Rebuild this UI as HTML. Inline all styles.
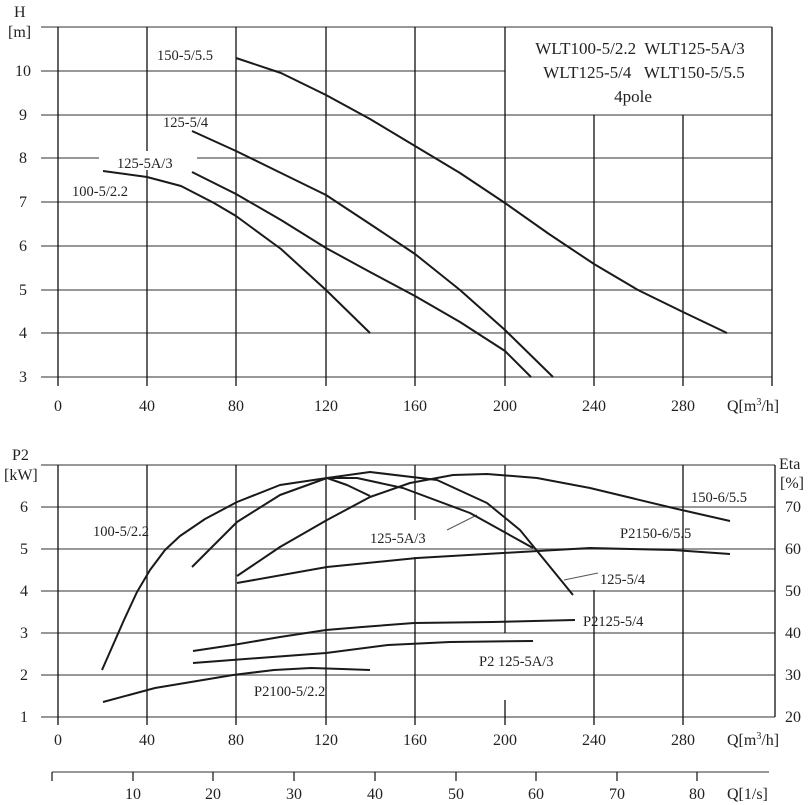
<!DOCTYPE html>
<html><head><meta charset="utf-8"><style>
html,body{margin:0;padding:0;background:#fff;}
svg{display:block;font-family:"Liberation Serif",serif;}
</style></head><body>
<svg width="811" height="805" viewBox="0 0 811 805" xmlns="http://www.w3.org/2000/svg">
<g stroke="#777" stroke-width="1.6">
<line x1="41" y1="27" x2="772" y2="27"/>
<line x1="41" y1="71" x2="505" y2="71"/>
<line x1="41" y1="115" x2="772" y2="115"/>
<line x1="41" y1="158" x2="99" y2="158"/><line x1="197" y1="158" x2="772" y2="158"/>
<line x1="41" y1="202" x2="772" y2="202"/>
<line x1="41" y1="246" x2="772" y2="246"/>
<line x1="41" y1="290" x2="772" y2="290"/>
<line x1="41" y1="333" x2="772" y2="333"/>
<line x1="41" y1="377" x2="772" y2="377"/>
</g>
<g stroke="#111" stroke-width="1.3">
<line x1="58" y1="27" x2="58" y2="386"/>
<line x1="147" y1="27" x2="147" y2="151"/><line x1="147" y1="170" x2="147" y2="386"/>
<line x1="236" y1="27" x2="236" y2="386"/>
<line x1="326" y1="27" x2="326" y2="386"/>
<line x1="415" y1="27" x2="415" y2="386"/>
<line x1="505" y1="27" x2="505" y2="386"/>
<line x1="594" y1="115" x2="594" y2="386"/>
<line x1="683" y1="115" x2="683" y2="386"/>
<line x1="772" y1="27" x2="772" y2="386"/>
</g>
<g font-size="16" fill="#222" text-anchor="end">
<text x="31" y="76">10</text><text x="27" y="120">9</text><text x="27" y="163">8</text><text x="27" y="207">7</text><text x="27" y="251">6</text><text x="27" y="295">5</text><text x="27" y="338">4</text><text x="27" y="382">3</text>
</g>
<text x="14" y="17" font-size="16" fill="#222">H</text>
<text x="8" y="37" font-size="16" fill="#222">[m]</text>
<g font-size="16" fill="#222" text-anchor="middle">
<text x="58" y="411">0</text><text x="147" y="411">40</text><text x="236" y="411">80</text><text x="326" y="411">120</text><text x="415" y="411">160</text><text x="505" y="411">200</text><text x="594" y="411">240</text><text x="683" y="411">280</text>
</g>
<text x="727" y="411" font-size="16" fill="#222">Q[m<tspan font-size="10" dy="-6">3</tspan><tspan dy="6">/h]</tspan></text>
<g font-size="17" fill="#222" text-anchor="middle">
<text x="640" y="54" xml:space="preserve">WLT100-5/2.2  WLT125-5A/3</text>
<text x="644" y="78" xml:space="preserve">WLT125-5/4   WLT150-5/5.5</text>
<text x="633" y="102">4pole</text>
</g>
<g font-size="14.5" fill="#222">
<text x="157" y="60">150-5/5.5</text>
<text x="163" y="127">125-5/4</text>
<text x="117" y="168">125-5A/3</text>
<text x="72" y="196">100-5/2.2</text>
</g>
<g fill="none" stroke="#1a1a1a" stroke-width="2" stroke-linejoin="round">
<polyline points="236,58 281,73 326,95 370,119 415,146 460,173 505,203 549,234 594,264 638,290 683,312 727,333"/>
<polyline points="192,131 236,151 281,173 326,195 370,224 415,254 460,290 505,330 553,377"/>
<polyline points="192,172 236,194 281,220 326,248 370,272 415,296 460,322 505,351 531,377"/>
<polyline points="103,171 147,177 181,186 214,203 236,216 281,249 326,290 370,333"/>
</g>

<g stroke="#777" stroke-width="1.6">
<line x1="41" y1="465" x2="775" y2="465"/>
<line x1="41" y1="507" x2="775" y2="507"/>
<line x1="41" y1="549" x2="775" y2="549"/>
<line x1="41" y1="591" x2="775" y2="591"/>
<line x1="41" y1="633" x2="775" y2="633"/>
<line x1="41" y1="675" x2="775" y2="675"/>
<line x1="41" y1="717" x2="775" y2="717"/>
</g>
<g stroke="#111" stroke-width="1.3">
<line x1="58" y1="465" x2="58" y2="725"/>
<line x1="147" y1="465" x2="147" y2="725"/>
<line x1="236" y1="465" x2="236" y2="725"/>
<line x1="326" y1="465" x2="326" y2="725"/>
<line x1="415" y1="465" x2="415" y2="520"/><line x1="415" y1="557" x2="415" y2="725"/>
<line x1="505" y1="465" x2="505" y2="633"/><line x1="505" y1="700" x2="505" y2="725"/>
<line x1="594" y1="590" x2="594" y2="725"/>
<line x1="683" y1="465" x2="683" y2="725"/>
<line x1="775" y1="465" x2="775" y2="717"/>
</g>
<text x="12" y="460" font-size="16" fill="#222">P2</text>
<text x="4" y="480" font-size="16" fill="#222">[kW]</text>
<g font-size="16" fill="#222" text-anchor="end">
<text x="28" y="512">6</text><text x="28" y="554">5</text><text x="28" y="596">4</text><text x="28" y="638">3</text><text x="28" y="680">2</text><text x="28" y="722">1</text>
</g>
<text x="779" y="469" font-size="16" fill="#222">Eta</text>
<text x="780" y="488" font-size="16" fill="#222">[%]</text>
<g font-size="16" fill="#222">
<text x="785" y="512">70</text><text x="785" y="554">60</text><text x="785" y="596">50</text><text x="785" y="638">40</text><text x="785" y="680">30</text><text x="785" y="722">20</text>
</g>
<g font-size="16" fill="#222" text-anchor="middle">
<text x="58" y="745">0</text><text x="147" y="745">40</text><text x="236" y="745">80</text><text x="326" y="745">120</text><text x="415" y="745">160</text><text x="505" y="745">200</text><text x="594" y="745">240</text><text x="683" y="745">280</text>
</g>
<text x="727" y="745" font-size="16" fill="#222">Q[m<tspan font-size="10" dy="-6">3</tspan><tspan dy="6">/h]</tspan></text>
<g font-size="14.5" fill="#222">
<text x="93" y="536">100-5/2.2</text>
<text x="691" y="502">150-6/5.5</text>
<text x="370" y="543">125-5A/3</text>
<text x="620" y="538">P2150-6/5.5</text>
<text x="600" y="584">125-5/4</text>
<text x="583" y="626">P2125-5/4</text>
<text x="479" y="666">P2 125-5A/3</text>
<text x="254" y="696">P2100-5/2.2</text>
</g>
<g stroke="#555" stroke-width="1">
<line x1="447" y1="530" x2="477" y2="515"/>
<line x1="564" y1="580" x2="598" y2="573"/>
</g>
<g fill="none" stroke="#1a1a1a" stroke-width="2" stroke-linejoin="round">
<polyline points="102,670 113,645 124,620 137,592 150,570 165,550 180,536 205,519 237,502 280,485 327,478 347,485 370,496"/>
<polyline points="192,567 237,522 280,495 327,478 370,472 437,480 487,503 520,530 573,595"/>
<polyline points="327,478 357,478 403,488 470,513 533,548"/>
<polyline points="237,576 280,547 327,520 370,497 410,483 453,475 487,474 537,478 590,488 673,508 730,521"/>
<polyline points="237,583 327,567 417,558 503,553 590,548 673,550 730,554"/>
<polyline points="193,651 233,645 280,637 326,630 362,627 414,623 492,622 575,620"/>
<polyline points="193,663 259,658 326,653 388,645 450,642 533,641"/>
<polyline points="103,702 155,688 233,675 274,670 311,668 342,669 370,670"/>
</g>

<line x1="52" y1="772" x2="769" y2="772" stroke="#777" stroke-width="1.6"/>
<g stroke="#111" stroke-width="1.2">
<line x1="52" y1="772" x2="52" y2="781"/>
<line x1="133" y1="772" x2="133" y2="781"/>
<line x1="213" y1="772" x2="213" y2="781"/>
<line x1="294" y1="772" x2="294" y2="781"/>
<line x1="375" y1="772" x2="375" y2="781"/>
<line x1="456" y1="772" x2="456" y2="781"/>
<line x1="536" y1="772" x2="536" y2="781"/>
<line x1="617" y1="772" x2="617" y2="781"/>
<line x1="697" y1="772" x2="697" y2="781"/>
</g>
<g font-size="16" fill="#222" text-anchor="middle">
<text x="133" y="799">10</text><text x="213" y="799">20</text><text x="294" y="799">30</text><text x="375" y="799">40</text><text x="456" y="799">50</text><text x="536" y="799">60</text><text x="617" y="799">70</text><text x="697" y="799">80</text>
</g>
<text x="727" y="799" font-size="16" fill="#222">Q[1/s]</text>
</svg>
</body></html>
